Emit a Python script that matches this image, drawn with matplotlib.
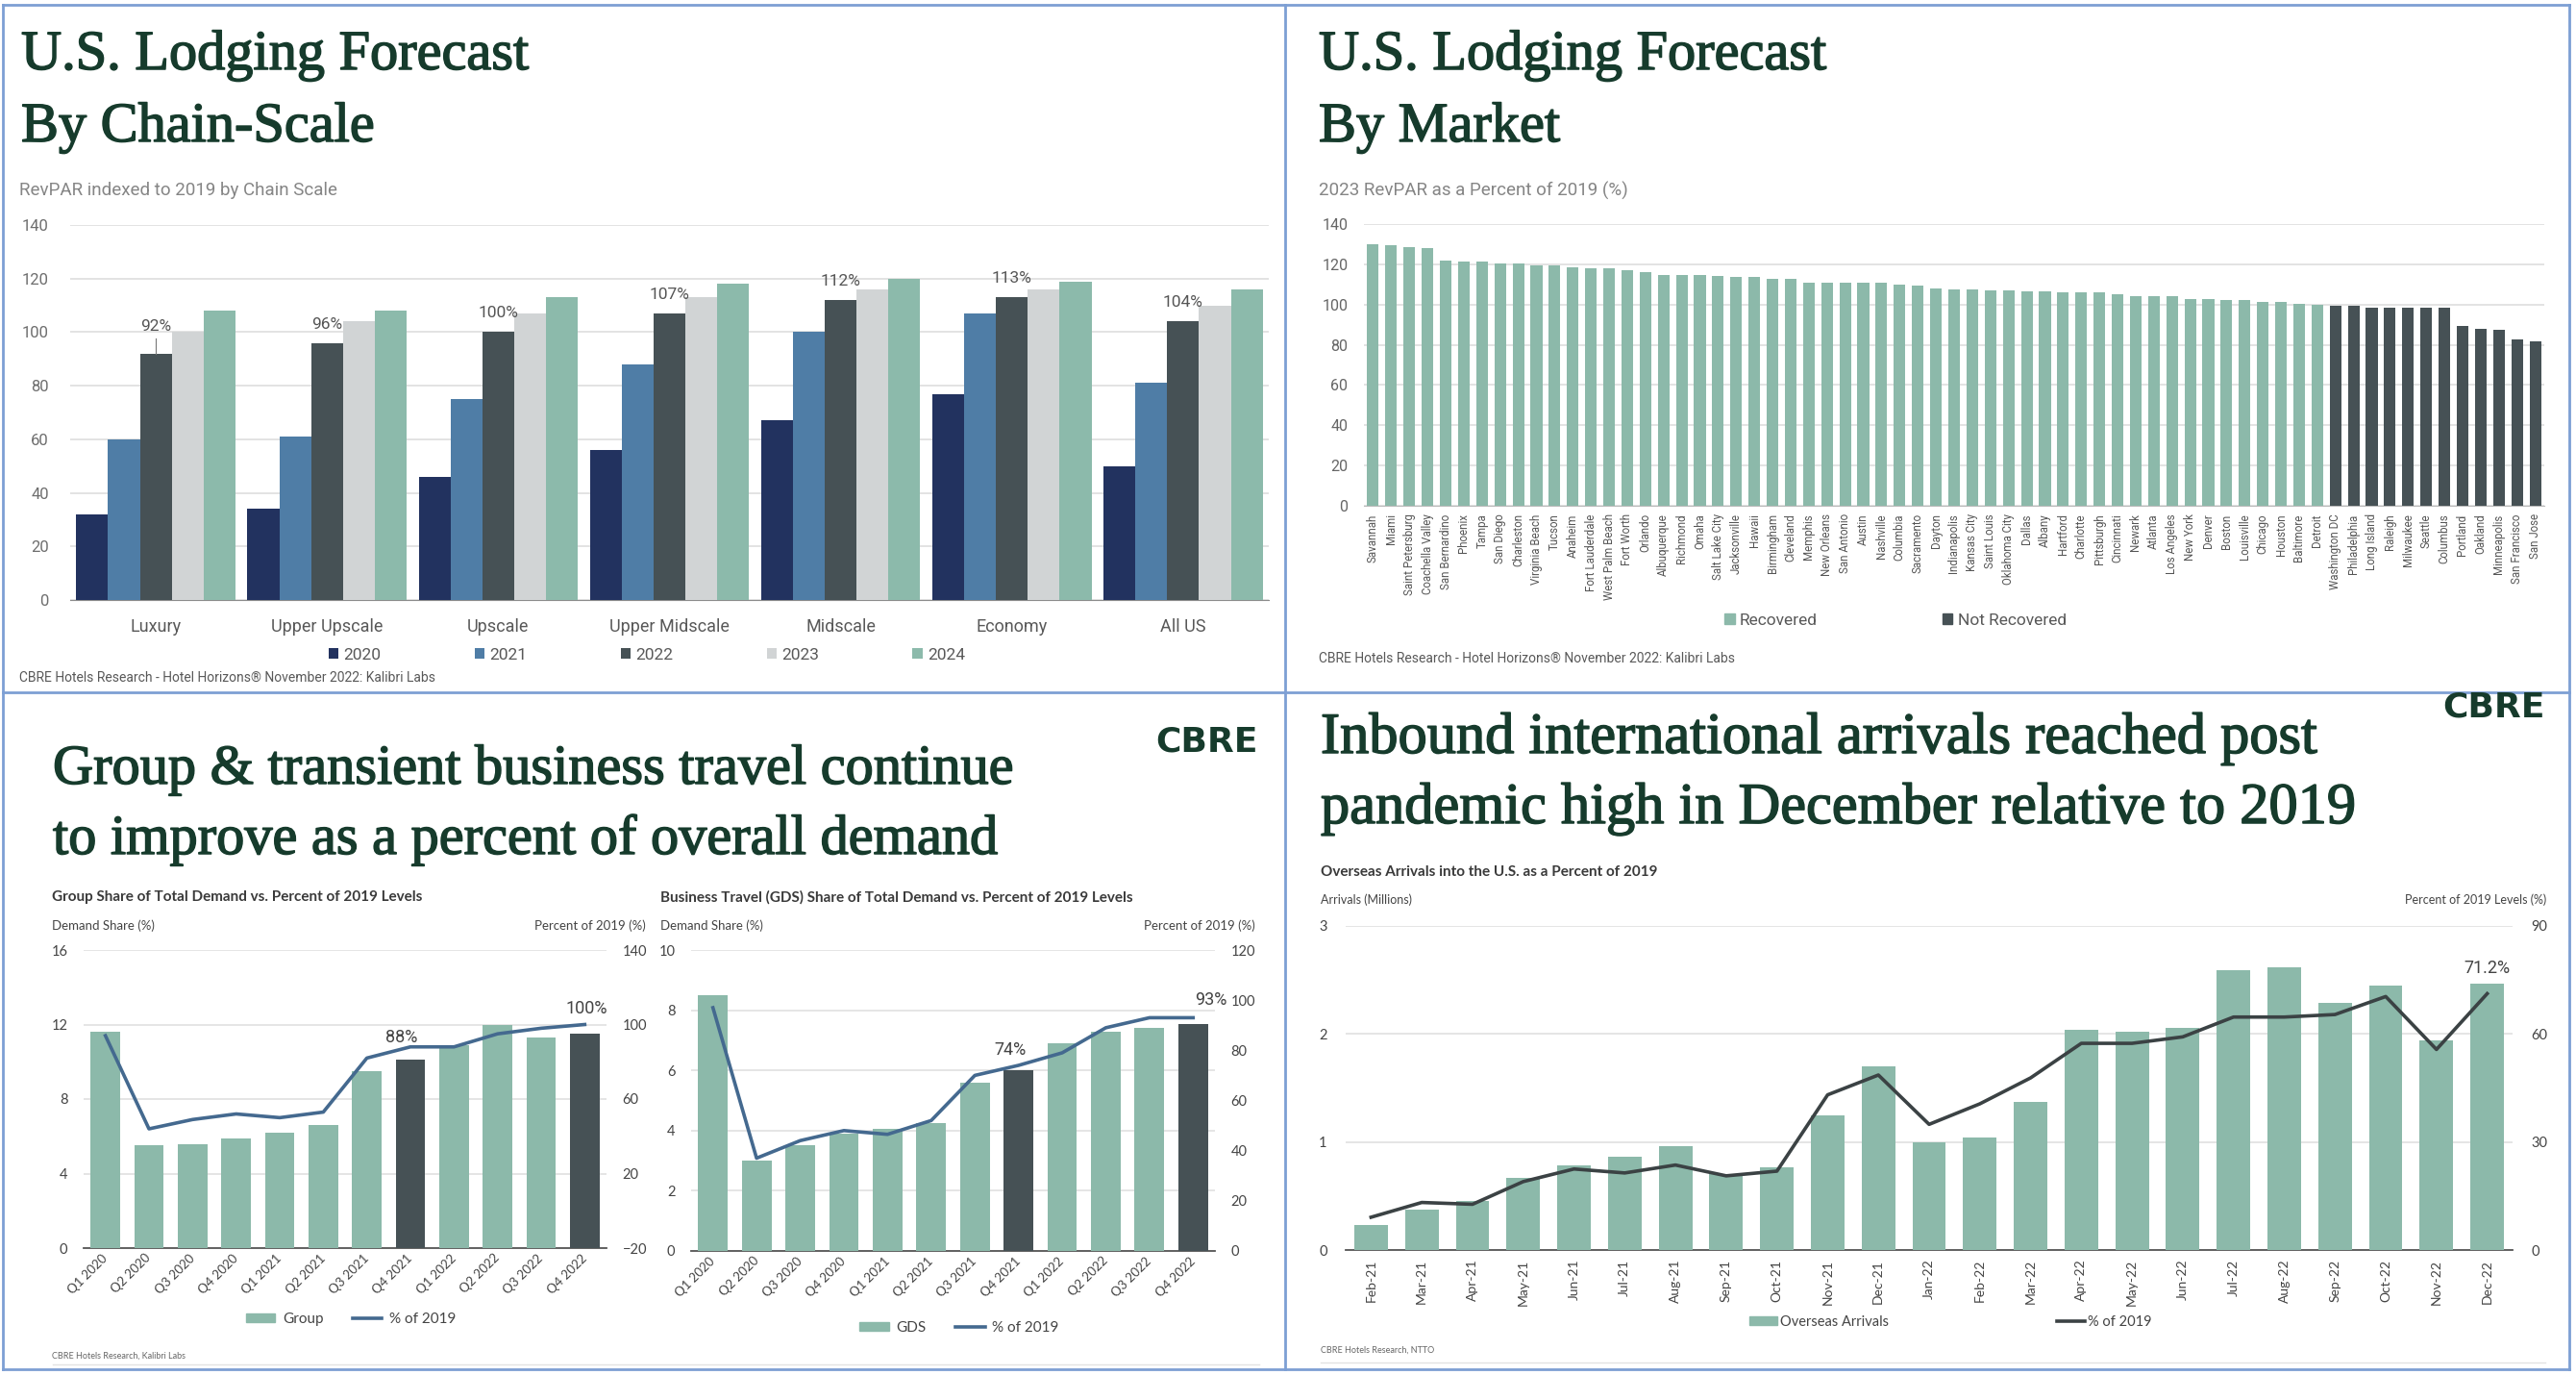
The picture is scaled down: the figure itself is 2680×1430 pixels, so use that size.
import numpy as np
import matplotlib
matplotlib.use("Agg")
import matplotlib.pyplot as plt
import matplotlib.patheffects as pe
from matplotlib.lines import Line2D
from matplotlib.patches import Patch

# ---- data ----
chain_cats = ["Luxury", "Upper Upscale", "Upscale", "Upper Midscale", "Midscale", "Economy", "All US"]
chain_years = ["2020", "2021", "2022", "2023", "2024"]
rev_2020 = [32, 34, 46, 56, 67, 77, 50]
rev_2021 = [60, 61, 75, 88, 100, 107, 81]
rev_2022 = [92, 96, 100, 107, 112, 113, 104]
rev_2023 = [100, 104, 107, 113, 116, 116, 110]
rev_2024 = [108, 108, 113, 118, 120, 119, 116]

markets = ["Savannah", "Miami", "Saint Petersburg", "Coachella Valley", "San Bernardino", "Phoenix",
           "Tampa", "San Diego", "Charleston", "Virginia Beach", "Tucson", "Anaheim", "Fort Lauderdale",
           "West Palm Beach", "Fort Worth", "Orlando", "Albuquerque", "Richmond", "Omaha", "Salt Lake City",
           "Jacksonville", "Hawaii", "Birmingham", "Cleveland", "Memphis", "New Orleans", "San Antonio",
           "Austin", "Nashville", "Columbia", "Sacramento", "Dayton", "Indianapolis", "Kansas City",
           "Saint Louis", "Oklahoma City", "Dallas", "Albany", "Hartford", "Charlotte", "Pittsburgh",
           "Cincinnati", "Newark", "Atlanta", "Los Angeles", "New York", "Denver", "Boston", "Louisville",
           "Chicago", "Houston", "Baltimore", "Detroit", "Washington DC", "Philadelphia", "Long Island",
           "Raleigh", "Milwaukee", "Seattle", "Columbus", "Portland", "Oakland", "Minneapolis",
           "San Francisco", "San Jose"]
market_vals = [130.1, 129.4, 128.5, 128.0, 121.7, 121.2, 121.2, 120.2, 120.2, 119.5, 119.5, 118.5, 117.8,
               117.8, 117.3, 116.2, 114.7, 114.7, 114.7, 114.2, 113.8, 113.8, 112.6, 112.6, 110.8, 110.8,
               110.8, 110.8, 110.8, 109.7, 109.2, 108.0, 107.5, 107.5, 107.0, 107.0, 106.7, 106.7, 106.2,
               106.2, 106.2, 105.1, 104.1, 104.1, 104.1, 102.9, 102.9, 102.4, 102.4, 101.5, 101.5, 100.5,
               100.1, 99.5, 99.5, 98.3, 98.3, 98.3, 98.3, 98.3, 89.2, 88.0, 87.5, 82.9, 81.5]

quarters = ["Q1 2020", "Q2 2020", "Q3 2020", "Q4 2020", "Q1 2021", "Q2 2021",
            "Q3 2021", "Q4 2021", "Q1 2022", "Q2 2022", "Q3 2022", "Q4 2022"]
highlight_quarters = ["Q4 2021", "Q4 2022"]
group_share = [11.6, 5.5, 5.6, 5.9, 6.2, 6.6, 9.5, 10.1, 10.9, 12.0, 11.3, 11.5]
group_pct = [94, 44, 49, 52, 50, 53, 82, 88, 88, 95, 98, 100]
gds_share = [8.5, 3.0, 3.5, 3.9, 4.05, 4.25, 5.6, 6.0, 6.9, 7.3, 7.4, 7.55]
gds_pct = [97, 37, 44, 48, 46.5, 52, 70, 74, 79, 89, 93, 93]

months = ["Feb-21", "Mar-21", "Apr-21", "May-21", "Jun-21", "Jul-21", "Aug-21", "Sep-21", "Oct-21",
          "Nov-21", "Dec-21", "Jan-22", "Feb-22", "Mar-22", "Apr-22", "May-22", "Jun-22", "Jul-22",
          "Aug-22", "Sep-22", "Oct-22", "Nov-22", "Dec-22"]
arrivals = [0.23, 0.37, 0.45, 0.67, 0.78, 0.86, 0.96, 0.70, 0.77, 1.25, 1.70, 1.00, 1.04, 1.37, 2.04,
            2.02, 2.06, 2.59, 2.62, 2.29, 2.45, 1.94, 2.47]
arr_pct = [9.1, 13.2, 12.7, 19.0, 22.5, 21.4, 23.6, 20.6, 21.9, 43.1, 48.6, 34.9, 40.6, 47.8, 57.4,
           57.4, 59.2, 64.7, 64.7, 65.4, 70.4, 55.7, 71.2]

# ---- style ----
plt.rcParams['font.family'] = ['Roboto', 'DejaVu Sans']
title_green = '#163b2c'
teal = '#8cb9aa'
dark = '#465155'
blue_line = '#44698f'
grid_c = '#e0e0e0'
chain_colors = ['#22325f', '#4f7da6', '#465155', '#d1d4d5', '#8cbaab']
serif = ['Liberation Serif', 'DejaVu Serif']
bottom_font = ['Lato', 'DejaVu Sans']
heavier = [pe.withStroke(linewidth=1.1, foreground=title_green)]

W, H = 2680, 1430
fig = plt.figure(figsize=(W / 100, H / 100), dpi=100)


def box(l, t, r, b):
    return fig.add_axes([l / W, 1 - b / H, (r - l) / W, (b - t) / H])


def ftext(x, y, s, **kw):
    fig.text(x / W, 1 - y / H, s, **kw)


def title(x, y, s, size):
    ftext(x, y, s, family=serif, fontsize=size, color=title_green, va='baseline', path_effects=heavier)


def hline(x0, x1, y, **kw):
    fig.add_artist(Line2D([x0 / W, x1 / W], [1 - y / H, 1 - y / H], transform=fig.transFigure, **kw))


def vline(x, y0, y1, **kw):
    fig.add_artist(Line2D([x / W, x / W], [1 - y0 / H, 1 - y1 / H], transform=fig.transFigure, **kw))


def clean(ax, keep_bottom=True):
    for s in ['top', 'right', 'left']:
        ax.spines[s].set_visible(False)
    ax.spines['bottom'].set_visible(keep_bottom)
    ax.tick_params(length=0)


# ---- panel borders ----
bc = '#7d9fd4'
hline(3, 2673, 5, color=bc, lw=2)
hline(3, 2673, 1424, color=bc, lw=2)
hline(3, 2673, 720, color=bc, lw=2)
vline(3, 5, 1424, color=bc, lw=2)
vline(2673, 5, 1424, color=bc, lw=2)
vline(1337, 5, 1424, color=bc, lw=2)

# ---- panel 1: chain scale ----
title(22, 72, "U.S. Lodging Forecast", 42)
title(22, 147, "By Chain-Scale", 42)
ftext(20, 198, "RevPAR indexed to 2019 by Chain Scale", fontsize=13.5, color='#858585', va='center')
ftext(20, 705, "CBRE Hotels Research - Hotel Horizons\u00ae November 2022: Kalibri Labs", fontsize=10,
      color='#595959', va='center')

ax1 = box(73, 234, 1320, 624)
xc = np.arange(len(chain_cats))
bw = 0.186
for k, (vals, col, lab) in enumerate(zip([rev_2020, rev_2021, rev_2022, rev_2023, rev_2024],
                                         chain_colors, chain_years)):
    ax1.bar(xc + (k - 2) * bw, vals, bw, color=col, label=lab, zorder=3)
ax1.set_xlim(-0.5, len(chain_cats) - 0.5)
ax1.set_ylim(0, 140)
ax1.set_yticks(range(0, 141, 20))
ax1.set_xticks(xc, chain_cats)
ax1.grid(axis='y', color=grid_c, lw=1.3)
ax1.set_axisbelow(True)
clean(ax1)
ax1.spines['bottom'].set_color('#8c8c8c')
ax1.tick_params(axis='y', pad=16, labelsize=12, labelcolor='#6e6e6e')
ax1.tick_params(axis='x', pad=14, labelsize=13, labelcolor='#595959')
for i, v in enumerate(rev_2022):
    lift = 10 if i == 0 else 7
    ax1.text(i, v + lift, f"{v}%", ha='center', va='center', fontsize=12.5, color='#555555', zorder=5)
ax1.plot([0, 0], [rev_2022[0], rev_2022[0] + 5.5], color='#777777', lw=0.8, zorder=4)
ax1.legend(loc='center', bbox_to_anchor=(673 / W, 1 - 681 / H), bbox_transform=fig.transFigure,
           ncol=5, frameon=False, handlelength=0.6, handleheight=0.6, handletextpad=0.3,
           columnspacing=5.6, fontsize=12.5, labelcolor='#595959')

# ---- panel 2: by market ----
title(1372, 72, "U.S. Lodging Forecast", 42)
title(1372, 147, "By Market", 42)
ftext(1372, 198, "2023 RevPAR as a Percent of 2019 (%)", fontsize=13.5, color='#858585', va='center')
ftext(1372, 685, "CBRE Hotels Research - Hotel Horizons\u00ae November 2022: Kalibri Labs", fontsize=10,
      color='#595959', va='center')

ax2 = box(1419, 233, 2647, 526)
xm = np.arange(len(markets))
mcols = [teal if v >= 100 else dark for v in market_vals]
ax2.bar(xm, market_vals, 0.64, color=mcols, zorder=3)
ax2.set_xlim(-0.5, len(markets) - 0.5)
ax2.set_ylim(0, 140)
ax2.set_yticks(range(0, 141, 20))
ax2.set_xticks(xm, markets, rotation=90)
ax2.grid(axis='y', color=grid_c, lw=1.3)
ax2.set_axisbelow(True)
clean(ax2)
ax2.spines['bottom'].set_color('#bbbbbb')
ax2.tick_params(axis='y', pad=12, labelsize=11.5, labelcolor='#666666')
ax2.tick_params(axis='x', pad=6, labelsize=8.3, labelcolor='#555555')
ax2.legend(handles=[Patch(color=teal, label='Recovered'), Patch(color=dark, label='Not Recovered')],
           loc='center', bbox_to_anchor=(1972 / W, 1 - 645 / H), bbox_transform=fig.transFigure,
           ncol=2, frameon=False, handlelength=0.6, handleheight=0.6, handletextpad=0.3,
           columnspacing=7.5, fontsize=12.5, labelcolor='#595959')


# ---- panel 3: group & business travel ----
def combo(box_px, share, pct, share_ticks, pct_ticks, pct_lim, legend_name, legend_xy, notes):
    ax = box(*box_px)
    xq = np.arange(len(quarters))
    cols = [dark if q in highlight_quarters else teal for q in quarters]
    ax.bar(xq, share, 0.68, color=cols, zorder=3)
    ax.set_xlim(-0.5, len(quarters) - 0.5)
    ax.set_ylim(share_ticks[0], share_ticks[-1])
    ax.set_yticks(share_ticks)
    ax.set_xticks(xq, quarters)
    ax.grid(axis='y', color=grid_c, lw=1.2)
    ax.set_axisbelow(True)
    clean(ax)
    ax.spines['bottom'].set_color('#555555')
    ax.spines['bottom'].set_linewidth(1.3)
    ax.tick_params(axis='y', pad=12, labelsize=10.5, labelcolor='#444444')
    ax.tick_params(axis='x', pad=6, labelsize=9.5, labelcolor='#444444')
    for lab in ax.get_yticklabels() + ax.get_xticklabels():
        lab.set_family(bottom_font)
    for lab in ax.get_xticklabels():
        lab.set_rotation(45)
        lab.set_ha('right')
        lab.set_va('center')
        lab.set_rotation_mode('anchor')
    axr = ax.twinx()
    axr.plot(xq, pct, color=blue_line, lw=2.6, zorder=4)
    axr.set_ylim(*pct_lim)
    axr.set_yticks(pct_ticks)
    for s in ['top', 'right', 'left', 'bottom']:
        axr.spines[s].set_visible(False)
    axr.tick_params(length=0, pad=12, labelsize=10.5, labelcolor='#444444')
    for lab in axr.get_yticklabels():
        lab.set_family(bottom_font)
    for idx, dx, dy in notes:
        axr.text(idx + dx, pct[idx] + dy, f"{pct[idx]:g}%", ha='center', va='center', fontsize=13,
                 color='#444444')
    fig.legend(handles=[Patch(color=teal, label=legend_name),
                        Line2D([], [], color=blue_line, lw=2.6, label='% of 2019')],
               loc='center', bbox_to_anchor=(legend_xy[0] / W, 1 - legend_xy[1] / H), ncol=2,
               frameon=False, handlelength=2.0, handleheight=0.55, handletextpad=0.5,
               columnspacing=2.0, prop={'family': bottom_font, 'size': 11}, labelcolor='#444444')
    return ax


title(55, 815, "Group & transient business travel continue", 42)
title(55, 888, "to improve as a percent of overall demand", 42)
ftext(1202, 771, "CBRE", family='DejaVu Sans', fontweight='heavy', fontsize=26, color=title_green,
      va='center')

ftext(54, 933, "Group Share of Total Demand vs. Percent of 2019 Levels", family=bottom_font,
      fontweight='bold', fontsize=11, color='#3a3a3a', va='center')
ftext(54, 963, "Demand Share (%)", family=bottom_font, fontsize=9.5, color='#444444', va='center')
ftext(672, 963, "Percent of 2019 (%)", family=bottom_font, fontsize=9.5, color='#444444', va='center',
      ha='right')
combo((87, 988, 631, 1298), group_share, group_pct, [0, 4, 8, 12, 16], [-20, 20, 60, 100, 140],
      (-20, 140), 'Group', (365, 1372), [(7, -0.2, 5), (11, 0.05, 8.5)])

ftext(687, 933, "Business Travel (GDS) Share of Total Demand vs. Percent of 2019 Levels",
      family=bottom_font, fontweight='bold', fontsize=11, color='#3a3a3a', va='center')
ftext(687, 963, "Demand Share (%)", family=bottom_font, fontsize=9.5, color='#444444', va='center')
ftext(1306, 963, "Percent of 2019 (%)", family=bottom_font, fontsize=9.5, color='#444444',
      va='center', ha='right')
combo((719, 988, 1264, 1301), gds_share, gds_pct, [0, 2, 4, 6, 8, 10], [0, 20, 40, 60, 80, 100, 120],
      (0, 120), 'GDS', (998, 1381), [(7, -0.2, 6), (11, 0.4, 7)])

ftext(54, 1410, "CBRE Hotels Research, Kalibri Labs", family=bottom_font, fontsize=6.5,
      color='#666666', va='center')
hline(55, 1310, 1419, color='#e3e3e3', lw=1)

# ---- panel 4: overseas arrivals ----
title(1374, 783, "Inbound international arrivals reached post", 43.5)
title(1374, 856, "pandemic high in December relative to 2019", 43.5)
ftext(2541, 736, "CBRE", family='DejaVu Sans', fontweight='heavy', fontsize=26, color=title_green,
      va='center')
ftext(1374, 907, "Overseas Arrivals into the U.S. as a Percent of 2019", family=bottom_font,
      fontweight='bold', fontsize=11, color='#3a3a3a', va='center')
ftext(1374, 936, "Arrivals (Millions)", family=bottom_font, fontsize=9, color='#444444', va='center')
ftext(2649, 936, "Percent of 2019 Levels (%)", family=bottom_font, fontsize=9, color='#444444',
      va='center', ha='right')
ftext(1374, 1404, "CBRE Hotels Research, NTTO", family=bottom_font, fontsize=6.5, color='#666666',
      va='center')
hline(1374, 2648, 1417, color='#e3e3e3', lw=1)

ax4 = box(1400, 963, 2614, 1300)
xmo = np.arange(len(months))
ax4.bar(xmo, arrivals, 0.66, color=teal, zorder=3)
ax4.set_xlim(-0.5, len(months) - 0.5)
ax4.set_ylim(0, 3)
ax4.set_yticks([0, 1, 2, 3])
ax4.set_xticks(xmo, months, rotation=90)
ax4.grid(axis='y', color=grid_c, lw=1.2)
ax4.set_axisbelow(True)
clean(ax4)
ax4.spines['bottom'].set_color('#555555')
ax4.spines['bottom'].set_linewidth(1.3)
ax4.tick_params(axis='y', pad=14, labelsize=10.5, labelcolor='#444444')
ax4.tick_params(axis='x', pad=7, labelsize=10, labelcolor='#444444')
for lab in ax4.get_yticklabels() + ax4.get_xticklabels():
    lab.set_family(bottom_font)
ax4r = ax4.twinx()
ax4r.plot(xmo, arr_pct, color='#3b4244', lw=2.6, zorder=4)
ax4r.set_ylim(0, 90)
ax4r.set_yticks([0, 30, 60, 90])
for s in ['top', 'right', 'left', 'bottom']:
    ax4r.spines[s].set_visible(False)
ax4r.tick_params(length=0, pad=14, labelsize=10.5, labelcolor='#444444')
for lab in ax4r.get_yticklabels():
    lab.set_family(bottom_font)
ax4r.text(len(months) - 1, arr_pct[-1] + 7, f"{arr_pct[-1]}%", ha='center', va='center', fontsize=13,
          color='#444444')
fig.legend(handles=[Patch(color=teal, label='Overseas Arrivals'),
                    Line2D([], [], color='#3b4244', lw=2.6, label='% of 2019')],
           loc='center', bbox_to_anchor=(2029 / W, 1 - 1375 / H), ncol=2, frameon=False,
           handlelength=2.0, handleheight=0.55, handletextpad=0.2, columnspacing=12,
           prop={'family': bottom_font, 'size': 10.5}, labelcolor='#444444')

fig.savefig("out.png", dpi=100, facecolor='white')
